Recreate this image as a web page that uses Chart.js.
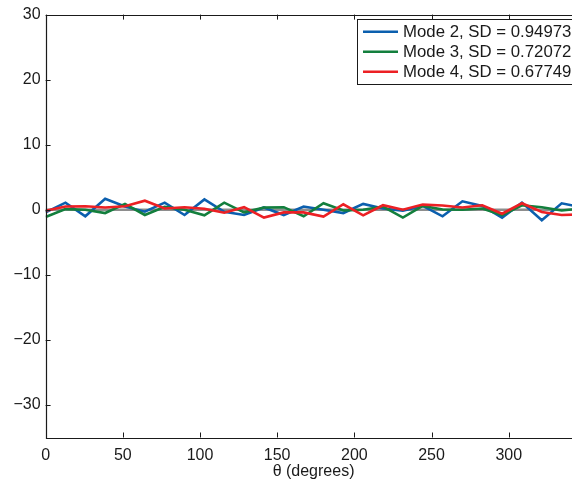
<!DOCTYPE html>
<html>
<head>
<meta charset="utf-8">
<script src="https://cdn.jsdelivr.net/npm/chart.js@4.4.0/dist/chart.umd.min.js"></script>
<style>
  html, body { margin: 0; padding: 0; background: #fff; overflow: hidden; }
  #wrap { width: 600px; height: 480px; }
</style>
</head>
<body>
<div id="wrap"><canvas id="modeChart" width="600" height="480"></canvas></div>
<script>
// Mode deviations versus angle.

const thetas = [0, 12.86, 25.71, 38.57, 51.43, 64.29, 77.14, 90, 102.86, 115.71,
    128.57, 141.43, 154.29, 167.14, 180, 192.86, 205.71, 218.57, 231.43, 244.29,
    257.14, 270, 282.86, 295.71, 308.57, 321.43, 334.29, 347.14];

const mode2 = [-0.4, 1.1, -1.0, 1.7, 0.5, -0.3, 1.1, -0.8, 1.6, -0.3,
    -0.8, 0.35, -0.8, 0.5, 0.0, -0.5, 0.9, 0.2, -0.15, 0.6,
    -1.0, 1.3, 0.6, -1.2, 1.1, -1.6, 1.0, 0.4];

const mode3 = [-1.1, 0.1, 0.0, -0.5, 0.9, -0.8, 0.45, 0.0, -0.85, 1.1,
    -0.4, 0.35, 0.4, -1.0, 1.0, -0.1, 0.0, 0.5, -1.2, 0.6,
    0.05, 0.0, 0.2, -0.8, 0.7, 0.4, -0.1, 0.2];

const mode4 = [-0.15, 0.5, 0.55, 0.35, 0.55, 1.4, 0.2, 0.4, 0.15, -0.45,
    0.4, -1.2, -0.4, -0.4, -1.05, 0.85, -0.85, 0.7, 0.0, 0.8,
    0.65, 0.35, 0.7, -0.6, 1.0, -0.35, -0.8, -0.7];

const baseline = [0, 0, 0, 0, 0, 0, 0, 0, 0, 0, 0, 0, 0, 0, 0, 0, 0, 0, 0, 0,
    0, 0, 0, 0, 0, 0, 0, 0];

const seriesLabels = ['Mode 2, SD = 0.94973', 'Mode 3, SD = 0.72072', 'Mode 4, SD = 0.67749'];
const seriesColors = ['#0b5fae', '#137f3d', '#ec2024'];

const xTicks = [0, 50, 100, 150, 200, 250, 300];
const yTicks = [-30, -20, -10, 0, 10, 20, 30];

const FONT = '"Liberation Sans", Arial, sans-serif';


function toPoints(values) {
    return values.map((v, i) => ({ x: thetas[i], y: v }));
}


// Box round the plot, with MATLAB style inward ticks
const framePlugin = {
    id: 'frame',
    afterDraw(chart) {
        const { ctx, chartArea: a, scales } = chart;
        ctx.save();
        ctx.strokeStyle = '#1a1a1a';
        ctx.lineWidth = 1.2;
        ctx.beginPath();
        ctx.rect(Math.round(a.left) + 0.5, Math.round(a.top) + 0.5,
            Math.round(a.right - a.left), Math.round(a.bottom - a.top));
        ctx.stroke();

        const len = 5;
        ctx.lineWidth = 1;
        ctx.beginPath();
        xTicks.forEach(v => {
            const x = Math.round(scales.x.getPixelForValue(v)) + 0.5;
            ctx.moveTo(x, a.bottom); ctx.lineTo(x, a.bottom - len);
            ctx.moveTo(x, a.top); ctx.lineTo(x, a.top + len);
        });
        yTicks.forEach(v => {
            const y = Math.round(scales.y.getPixelForValue(v)) + 0.5;
            ctx.moveTo(a.left, y); ctx.lineTo(a.left + len, y);
            ctx.moveTo(a.right, y); ctx.lineTo(a.right - len, y);
        });
        ctx.stroke();
        ctx.restore();
    }
};


// Legend box in the top right corner
const legendPlugin = {
    id: 'boxLegend',
    afterDraw(chart) {
        const { ctx } = chart;
        const left = 357, top = 19, width = 222, height = 65;
        ctx.save();
        ctx.fillStyle = '#fff';
        ctx.fillRect(left, top, width, height);
        ctx.strokeStyle = '#1a1a1a';
        ctx.lineWidth = 1;
        ctx.strokeRect(left + 0.5, top + 0.5, width, height);

        ctx.font = '16.8px ' + FONT;
        ctx.textBaseline = 'middle';
        ctx.textAlign = 'left';
        seriesLabels.forEach((label, i) => {
            const y = top + 12.7 + i * 20;
            ctx.strokeStyle = seriesColors[i];
            ctx.lineWidth = 2.6;
            ctx.beginPath();
            ctx.moveTo(363, y);
            ctx.lineTo(398, y);
            ctx.stroke();
            ctx.fillStyle = '#1a1a1a';
            ctx.fillText(label, 403, y + 1);
        });
        ctx.restore();
    }
};


const ctx = document.getElementById('modeChart').getContext('2d');

const lineStyle = (label, data, color, order) => ({
    label: label,
    data: toPoints(data),
    borderColor: color,
    backgroundColor: color,
    borderWidth: 2.6,
    pointRadius: 0,
    tension: 0,
    fill: false,
    order: order
});

new Chart(ctx, {
    type: 'line',
    data: {
        datasets: [
            lineStyle('zero', baseline, '#8e8e8e', 4),
            lineStyle(seriesLabels[0], mode2, seriesColors[0], 3),
            lineStyle(seriesLabels[1], mode3, seriesColors[1], 2),
            lineStyle(seriesLabels[2], mode4, seriesColors[2], 1)
        ]
    },
    options: {
        responsive: false,
        animation: false,
        layout: {
            padding: { top: 13, right: 18.5, left: 0, bottom: 0 }
        },
        plugins: {
            legend: { display: false },
            tooltip: { enabled: false }
        },
        scales: {
            x: {
                type: 'linear',
                min: 0,
                max: 347.14,
                grid: { display: false, drawTicks: false },
                border: { display: false },
                afterBuildTicks: axis => { axis.ticks = xTicks.map(v => ({ value: v })); },
                afterFit: axis => { axis.height = 42.5; },
                ticks: {
                    color: '#1a1a1a',
                    padding: 8,
                    maxRotation: 0,
                    font: { family: FONT, size: 16 }
                },
                title: {
                    display: true,
                    text: 'θ (degrees)',
                    color: '#1a1a1a',
                    padding: { top: 0, bottom: 0 },
                    font: { family: FONT, size: 16, lineHeight: 1 }
                }
            },
            y: {
                min: -35,
                max: 30,
                grid: { display: false, drawTicks: false },
                border: { display: false },
                afterBuildTicks: axis => { axis.ticks = yTicks.map(v => ({ value: v })); },
                afterFit: axis => { axis.width = 45.6; },
                ticks: {
                    color: '#1a1a1a',
                    padding: 5,
                    font: { family: FONT, size: 16 },
                    callback: v => (v < 0 ? '\u2212' + Math.abs(v) : String(v))
                }
            }
        }
    },
    plugins: [framePlugin, legendPlugin]
});
</script>
</body>
</html>
